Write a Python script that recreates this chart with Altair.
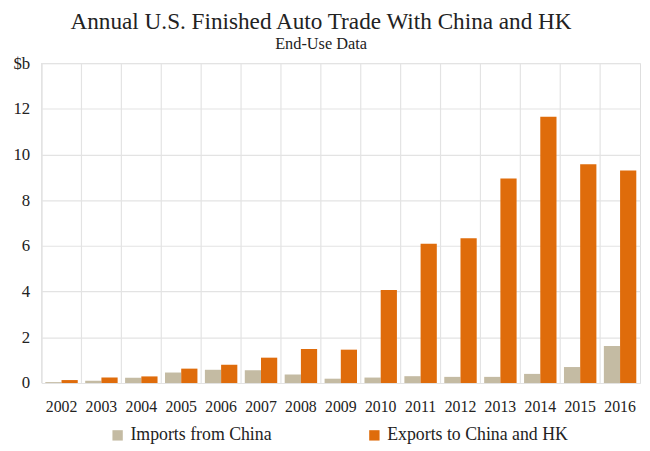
import altair as alt
import pandas as pd

years = [str(y) for y in range(2002, 2017)]
imports_china = [0.04, 0.10, 0.23, 0.46, 0.58, 0.56, 0.37, 0.19, 0.24, 0.30, 0.27, 0.27, 0.40, 0.70, 1.62]
exports_china_hk = [0.13, 0.24, 0.29, 0.63, 0.80, 1.11, 1.49, 1.46, 4.07, 6.10, 6.33, 8.95, 11.65, 9.57, 9.30]
series_names = ["Imports from China", "Exports to China and HK"]
series_colors = ["#c4bba3", "#df6c0b"]

rows = []
for i, y in enumerate(years):
    rows.append({"year": y, "series": series_names[0], "value": imports_china[i]})
    rows.append({"year": y, "series": series_names[1], "value": exports_china_hk[i]})
df = pd.DataFrame(rows)
# category boundaries for vertical gridlines
grid_df = pd.DataFrame({"idx": list(range(len(years)))})

FONT = "Liberation Serif"

x_scale = alt.Scale(domain=years, paddingInner=0, paddingOuter=0)
y_scale = alt.Scale(domain=[0, 14])

bars = alt.Chart(df).mark_bar().encode(
    x=alt.X("year:N", scale=x_scale, sort=years,
            axis=alt.Axis(title=None, labelAngle=0, ticks=False, domain=False, grid=False,
                          labelFont=FONT, labelFontSize=16, labelColor="#222222", labelPadding=16)),
    xOffset=alt.XOffset("series:N", sort=series_names,
                        scale=alt.Scale(domain=series_names, paddingOuter=0.23, paddingInner=0)),
    y=alt.Y("value:Q", scale=y_scale,
            axis=alt.Axis(title=None, values=[0, 2, 4, 6, 8, 10, 12, 14], ticks=False, domain=False,
                          gridColor="#e3e3e3", gridWidth=1.2,
                          labelExpr="datum.value == 14 ? '$b' : datum.label",
                          labelFont=FONT, labelFontSize=17, labelColor="#222222", labelPadding=12)),
    color=alt.Color("series:N", sort=series_names,
                    scale=alt.Scale(domain=series_names, range=series_colors),
                    legend=alt.Legend(title=None, orient="none", direction="horizontal",
                                      legendX=68, legendY=368, symbolType="square", symbolSize=110,
                                      symbolStrokeWidth=0, labelFont=FONT, labelFontSize=18,
                                      labelLimit=400, labelColor="#222222", columnPadding=95,
                                      labelOffset=4)),
)

vgrid = alt.Chart(grid_df).mark_rule(color="#e3e3e3", strokeWidth=1.2).encode(
    x=alt.X("idx:Q", scale=alt.Scale(domain=[0, len(years)], nice=False, zero=False), axis=None),
)

chart = alt.layer(vgrid, bars).resolve_scale(x="independent").properties(
    width=606,
    height=324,
    autosize=alt.AutoSizeParams(type="none"),
    padding={"left": 34, "top": 53, "right": 2, "bottom": 62},
    title=alt.TitleParams(
        text="Annual U.S. Finished Auto Trade With China and HK",
        subtitle="End-Use Data",
        font=FONT, fontSize=23.5, fontWeight="normal", color="#222222",
        subtitleFont=FONT, subtitleFontSize=16.5, subtitleColor="#222222",
        subtitlePadding=2, anchor="middle", dx=-20, offset=2,
    ),
).configure_view(stroke=None).configure(background="white")

chart.save("out.html", embed_options={"renderer": "svg", "actions": False})
